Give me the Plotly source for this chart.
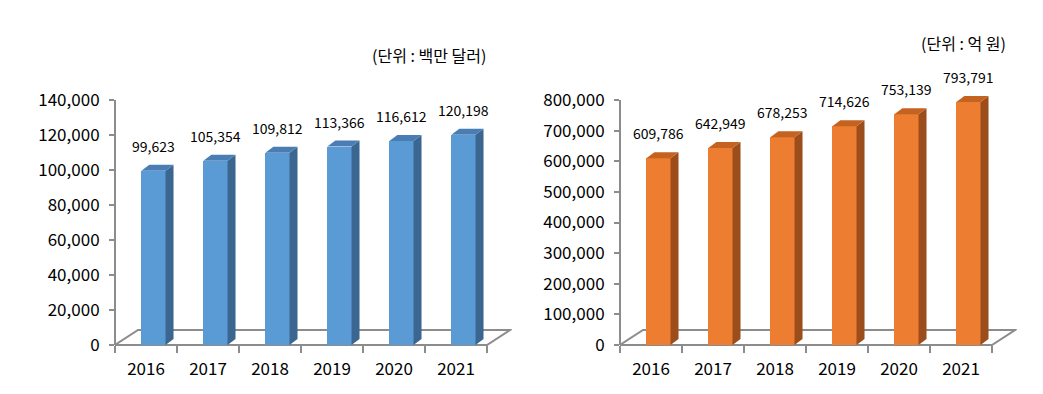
import plotly.graph_objects as go

years = ["2016", "2017", "2018", "2019", "2020", "2021"]
usd_values = [99623, 105354, 109812, 113366, 116612, 120198]
krw_values = [609786, 642949, 678253, 714626, 753139, 793791]
usd_ticks = [0, 20000, 40000, 60000, 80000, 100000, 120000, 140000]
krw_ticks = [0, 100000, 200000, 300000, 400000, 500000, 600000, 700000, 800000]
usd_unit = "(단위 : 백만 달러)"
krw_unit = "(단위 : 억 원)"

FONT = "Noto Sans CJK KR"
W, H = 1043, 394
PLOT_BOTTOM_PX = 345
PX_PER_CAT = 62.0
X_RANGE = [-0.5, 5.9]
BAR_OFF = 0.12
BAR_W = 0.39
SIDE_DX = 8 / PX_PER_CAT
TOP_DY_PX = 6
FLOOR_DX = 23 / PX_PER_CAT
FLOOR_DY_PX = 15
GRAY = "#8c8c8c"

fig = go.Figure()

panels = [
    dict(vals=usd_values, ticks=usd_ticks, ymax_tick=140000, yrange_top=140000,
         left_px=115, xa="x", ya="y", xname="xaxis", yname="yaxis",
         front="#5B9BD5", top="#4A7DB3", side="#3B6690", unit=usd_unit,
         unit_x_px=488, unit_y_px=55),
    dict(vals=krw_values, ticks=krw_ticks, ymax_tick=800000, yrange_top=816000,
         left_px=620, xa="x2", ya="y2", xname="xaxis2", yname="yaxis2",
         front="#ED7D31", top="#C4621F", side="#9C4D1C", unit=krw_unit,
         unit_x_px=1008, unit_y_px=43),
]

shapes = []
annotations = []
for p in panels:
    px_per_unit = 245.0 / p["ymax_tick"]
    top_px = PLOT_BOTTOM_PX - p["yrange_top"] * px_per_unit
    dom_h_px = PLOT_BOTTOM_PX - top_px
    x0p = p["left_px"] / W
    x1p = (p["left_px"] + (X_RANGE[1] - X_RANGE[0]) * PX_PER_CAT) / W
    y0p = (H - PLOT_BOTTOM_PX) / H
    y1p = (H - top_px) / H
    dyv = TOP_DY_PX / px_per_unit
    xs = [i + BAR_OFF for i in range(len(years))]

    fig.add_trace(go.Bar(x=xs, y=p["vals"], width=BAR_W, marker=dict(color=p["front"], line=dict(width=0)),
                         xaxis=p["xa"], yaxis=p["ya"], showlegend=False, hoverinfo="skip"))

    # floor (x data units, y in domain fraction)
    fdy = FLOOR_DY_PX / dom_h_px
    shapes.append(dict(type="path", xref=p["xa"], yref=p["ya"] + " domain",
                       path=f"M -0.5,0 L 5.5,0 L {5.5+FLOOR_DX},{fdy} L {-0.5+FLOOR_DX},{fdy} Z",
                       line=dict(color=GRAY, width=2), fillcolor="rgba(0,0,0,0)", layer="below"))
    # y axis line
    shapes.append(dict(type="line", xref=p["xa"] + " domain", yref=p["ya"], x0=0, x1=0, y0=0, y1=p["ymax_tick"],
                       line=dict(color=GRAY, width=2), layer="below"))

    for x, v in zip(xs, p["vals"]):
        l = x - BAR_W / 2
        r = x + BAR_W / 2
        shapes.append(dict(type="path", xref=p["xa"], yref=p["ya"],
                           path=f"M {r},0 L {r+SIDE_DX},{dyv} L {r+SIDE_DX},{v+dyv} L {r},{v} Z",
                           fillcolor=p["side"], line=dict(width=0), layer="above"))
        shapes.append(dict(type="path", xref=p["xa"], yref=p["ya"],
                           path=f"M {l},{v} L {r},{v} L {r+SIDE_DX},{v+dyv} L {l+SIDE_DX},{v+dyv} Z",
                           fillcolor=p["top"], line=dict(width=0), layer="above"))
        annotations.append(dict(x=x, y=v + dyv, xref=p["xa"], yref=p["ya"], text=f"{v:,}",
                                showarrow=False, yanchor="bottom", yshift=7,
                                font=dict(family=FONT, size=14, color="black")))

    annotations.append(dict(x=p["unit_x_px"] / W, y=(H - p["unit_y_px"]) / H, xref="paper", yref="paper",
                            text=p["unit"], showarrow=False, xanchor="right", yanchor="middle",
                            font=dict(family=FONT, size=16, color="black")))

    fig.update_layout(**{
        p["xname"]: dict(domain=[x0p, x1p], range=X_RANGE, anchor=p["ya"], showline=False, showgrid=False,
                         zeroline=False, tickvals=list(range(len(years))), ticktext=years, ticks="",
                         ticklabelstandoff=12, automargin=False,
                         tickfont=dict(family=FONT, size=17, color="black"),
                         minor=dict(tickvals=[i - 0.5 for i in range(len(years) + 1)], ticks="outside",
                                    ticklen=7, tickcolor=GRAY, tickwidth=1.5, showgrid=False)),
        p["yname"]: dict(domain=[y0p, y1p], range=[0, p["yrange_top"]], anchor=p["xa"], showline=False,
                         showgrid=False, zeroline=False, tickvals=p["ticks"], automargin=False,
                         ticktext=[f"{t:,}" for t in p["ticks"]], ticks="outside", ticklen=5,
                         tickcolor=GRAY, tickwidth=1.5, ticklabelstandoff=6,
                         tickfont=dict(family=FONT, size=17, color="black")),
    })

fig.update_layout(width=W, height=H, margin=dict(l=0, r=0, t=0, b=0), plot_bgcolor="white",
                  paper_bgcolor="white", shapes=shapes, annotations=annotations, bargap=0)

fig.write_html("out.html", config={"displayModeBar": False},
               post_script="document.body.style.margin='0';document.body.style.padding='0';")
